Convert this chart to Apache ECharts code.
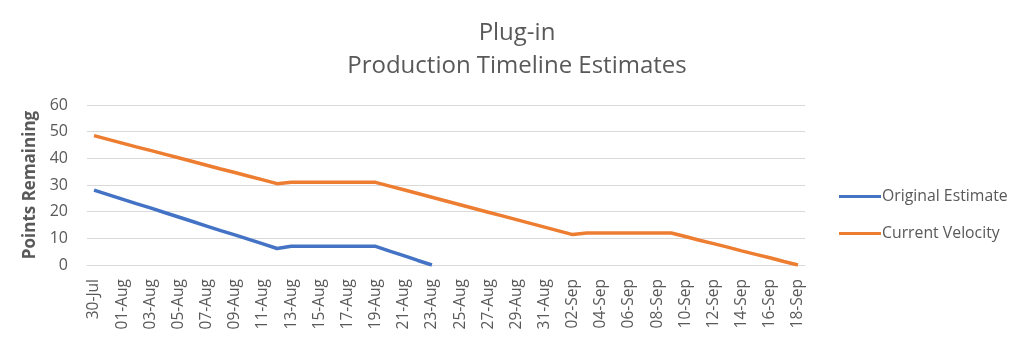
<!DOCTYPE html>
<html>
<head>
<meta charset="utf-8">
<script src="https://cdn.jsdelivr.net/npm/echarts@6/dist/echarts.min.js"></script>
<style>html,body{margin:0;padding:0;background:#fff;}#c{width:1024px;height:342px;}</style>
</head>
<body>
<div id="c"></div>
<script>
const categories = ['30-Jul','31-Jul','01-Aug','02-Aug','03-Aug','04-Aug','05-Aug','06-Aug','07-Aug','08-Aug','09-Aug','10-Aug','11-Aug','12-Aug','13-Aug','14-Aug','15-Aug','16-Aug','17-Aug','18-Aug','19-Aug','20-Aug','21-Aug','22-Aug','23-Aug','24-Aug','25-Aug','26-Aug','27-Aug','28-Aug','29-Aug','30-Aug','31-Aug','01-Sep','02-Sep','03-Sep','04-Sep','05-Sep','06-Sep','07-Sep','08-Sep','09-Sep','10-Sep','11-Sep','12-Sep','13-Sep','14-Sep','15-Sep','16-Sep','17-Sep','18-Sep'];
const originalEstimate = [28.1,26.4,24.7,23.0,21.4,19.7,18.0,16.3,14.6,12.9,11.3,9.6,7.9,6.2,7,7,7,7,7,7,7,5.2,3.5,1.7,0];
const currentVelocity = [48.5,47.1,45.7,44.3,43.0,41.6,40.2,38.8,37.4,36.0,34.7,33.3,31.9,30.5,31,31,31,31,31,31,31,29.6,28.2,26.8,25.4,24.0,22.6,21.2,19.8,18.4,17.0,15.6,14.2,12.8,11.4,12,12,12,12,12,12,12,10.7,9.3,8.0,6.7,5.3,4.0,2.7,1.3,0];
const yTicks = [0,10,20,30,40,50,60];
const seriesNames = ['Original Estimate','Current Velocity'];
const titleText = 'Plug-in\nProduction Timeline Estimates';
const yAxisName = 'Points Remaining';

const txt = '#595959';
const font = '"Open Sans", sans-serif';
const chart = echarts.init(document.getElementById('c'), null, {renderer:'canvas'});
chart.setOption({
  animation: false,
  color: ['#4472C4','#ED7D31'],
  title: {
    text: titleText,
    left: 512, top: 12, textAlign: 'center',
    textStyle: {fontFamily: font, fontSize: 24, fontWeight: 'normal', color: txt, lineHeight: 33}
  },
  legend: {
    orient: 'vertical',
    left: 834, top: 182,
    itemWidth: 42, itemHeight: 3, itemGap: 18,
    icon: 'rect',
    data: seriesNames,
    textStyle: {fontFamily: font, fontSize: 15.8, color: txt, lineHeight: 19, padding: [0,0,0,-4]}
  },
  grid: {left: 87, right: 219, top: 105, bottom: 77, containLabel: false},
  xAxis: {
    type: 'category',
    data: categories,
    boundaryGap: true,
    axisLine: {show: true, lineStyle: {color: '#d9d9d9', width: 1}},
    axisTick: {show: false},
    axisLabel: {rotate: 90, interval: 1, margin: 14, fontFamily: font, fontSize: 15.5, color: txt}
  },
  yAxis: {
    type: 'value',
    min: yTicks[0], max: yTicks[yTicks.length-1], interval: 10,
    name: yAxisName,
    nameLocation: 'middle',
    nameGap: 46,
    nameTextStyle: {fontFamily: font, fontSize: 17, fontWeight: 'bold', color: txt},
    axisLine: {show: false},
    axisTick: {show: false},
    splitLine: {lineStyle: {color: '#d9d9d9', width: 1}},
    axisLabel: {margin: 19, fontFamily: font, fontSize: 16, color: txt}
  },
  series: [
    {name: seriesNames[0], type: 'line', data: originalEstimate, showSymbol: false, symbol: 'none', lineStyle: {width: 3.5, color: '#4472C4'}, itemStyle: {color: '#4472C4'}},
    {name: seriesNames[1], type: 'line', data: currentVelocity, showSymbol: false, symbol: 'none', lineStyle: {width: 3.5, color: '#ED7D31'}, itemStyle: {color: '#ED7D31'}}
  ]
});
</script>
</body>
</html>
